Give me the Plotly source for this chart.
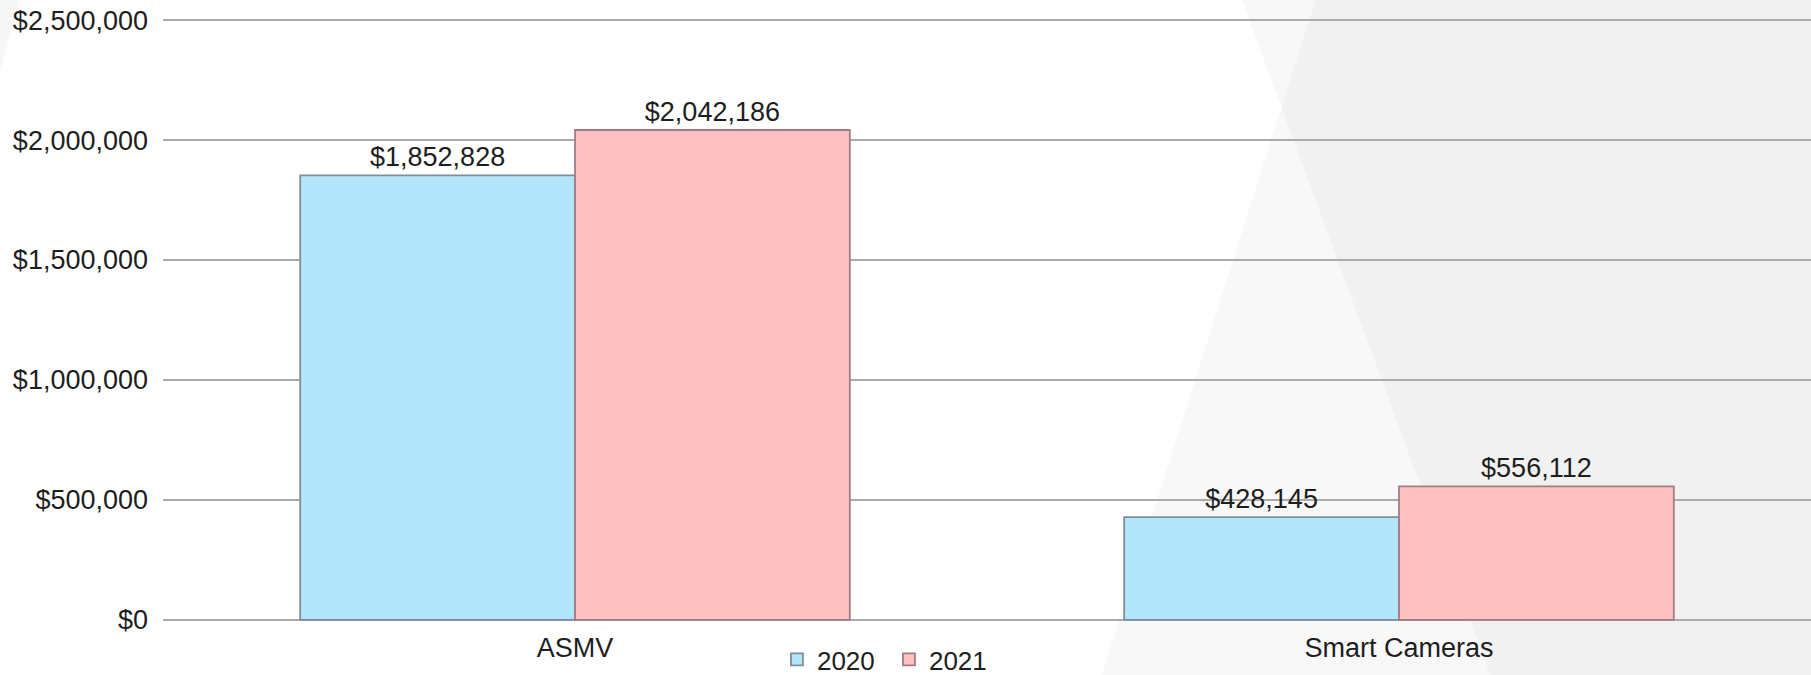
import plotly.graph_objects as go

categories = ["ASMV", "Smart Cameras"]
series_names = ["2020", "2021"]
values_2020 = [1852828, 428145]
values_2021 = [2042186, 556112]
y_tickvals = [0, 500000, 1000000, 1500000, 2000000, 2500000]
y_ticktext = ["$0", "$500,000", "$1,000,000", "$1,500,000", "$2,000,000", "$2,500,000"]

W, H = 1811, 675
y_lo, y_hi = -5000, 2505000
L, R, T, B = 163, 0, 19, 54
pw, ph = W - L - R, H - T - B

def px_to_paper(x, y):
    return (x - L) / pw, (H - B - y) / ph

def poly_path(pts):
    p = [px_to_paper(x, y) for x, y in pts]
    return "M " + " L ".join(f"{a:.5f},{b:.5f}" for a, b in p) + " Z"

font_family = "Liberation Sans, Arial, sans-serif"
fs = 27

fig = go.Figure()
fig.add_trace(go.Bar(
    x=categories, y=values_2020, name=series_names[0],
    marker=dict(color="#b4e6fb", line=dict(color="#7f8e9a", width=1.8)),
    texttemplate="$%{y:,}", textposition="outside",
    textfont=dict(size=fs, color="#1e1e1e", family=font_family),
    cliponaxis=False,
))
fig.add_trace(go.Bar(
    x=categories, y=values_2021, name=series_names[1],
    marker=dict(color="#ffbfc3", line=dict(color="#a07d83", width=1.8)),
    texttemplate="$%{y:,}", textposition="outside",
    textfont=dict(size=fs, color="#1e1e1e", family=font_family),
    cliponaxis=False,
))

shapes = [
    dict(type="path", xref="paper", yref="paper", layer="below",
         path=poly_path([(1240, -5), (1830, -5), (1830, 680), (1492, 680)]),
         fillcolor="rgba(0,0,0,0.026)", line=dict(width=0)),
    dict(type="path", xref="paper", yref="paper", layer="below",
         path=poly_path([(1317, -5), (1830, -5), (1830, 680), (1100, 680)]),
         fillcolor="rgba(0,0,0,0.026)", line=dict(width=0)),
    dict(type="path", xref="paper", yref="paper", layer="below",
         path=poly_path([(-5, -5), (21, -5), (-5, 90)]),
         fillcolor="rgba(0,0,0,0.03)", line=dict(width=0)),
]

fig.update_layout(
    width=W, height=H,
    margin=dict(l=L, r=R, t=T, b=B, pad=0, autoexpand=False),
    paper_bgcolor="white", plot_bgcolor="rgba(0,0,0,0)",
    barmode="group", bargap=0.333, bargroupgap=0,
    font=dict(family=font_family, size=fs, color="#1e1e1e"),
    showlegend=True,
    legend=dict(orientation="h", x=0.4405, xanchor="center", y=-0.064, yanchor="middle",
                font=dict(size=26, family=font_family, color="#1e1e1e"),
                bgcolor="rgba(0,0,0,0)", itemwidth=30, tracegroupgap=0,
                entrywidth=67, entrywidthmode="pixels"),
    shapes=shapes,
    xaxis=dict(range=[-0.5, 1.5], showgrid=False, showline=False, zeroline=False,
               ticks="", ticklabelstandoff=8, tickfont=dict(size=fs)),
    yaxis=dict(range=[y_lo, y_hi], tickmode="array", tickvals=y_tickvals, ticktext=y_ticktext,
               showgrid=True, gridcolor="#ababab", gridwidth=2.2,
               zeroline=False, showline=False, ticks="", ticklabelstandoff=14,
               tickfont=dict(size=fs)),
)

fig.write_html("out.html", config={"displayModeBar": False},
               post_script="document.body.style.margin='0';document.body.style.overflow='hidden';")
